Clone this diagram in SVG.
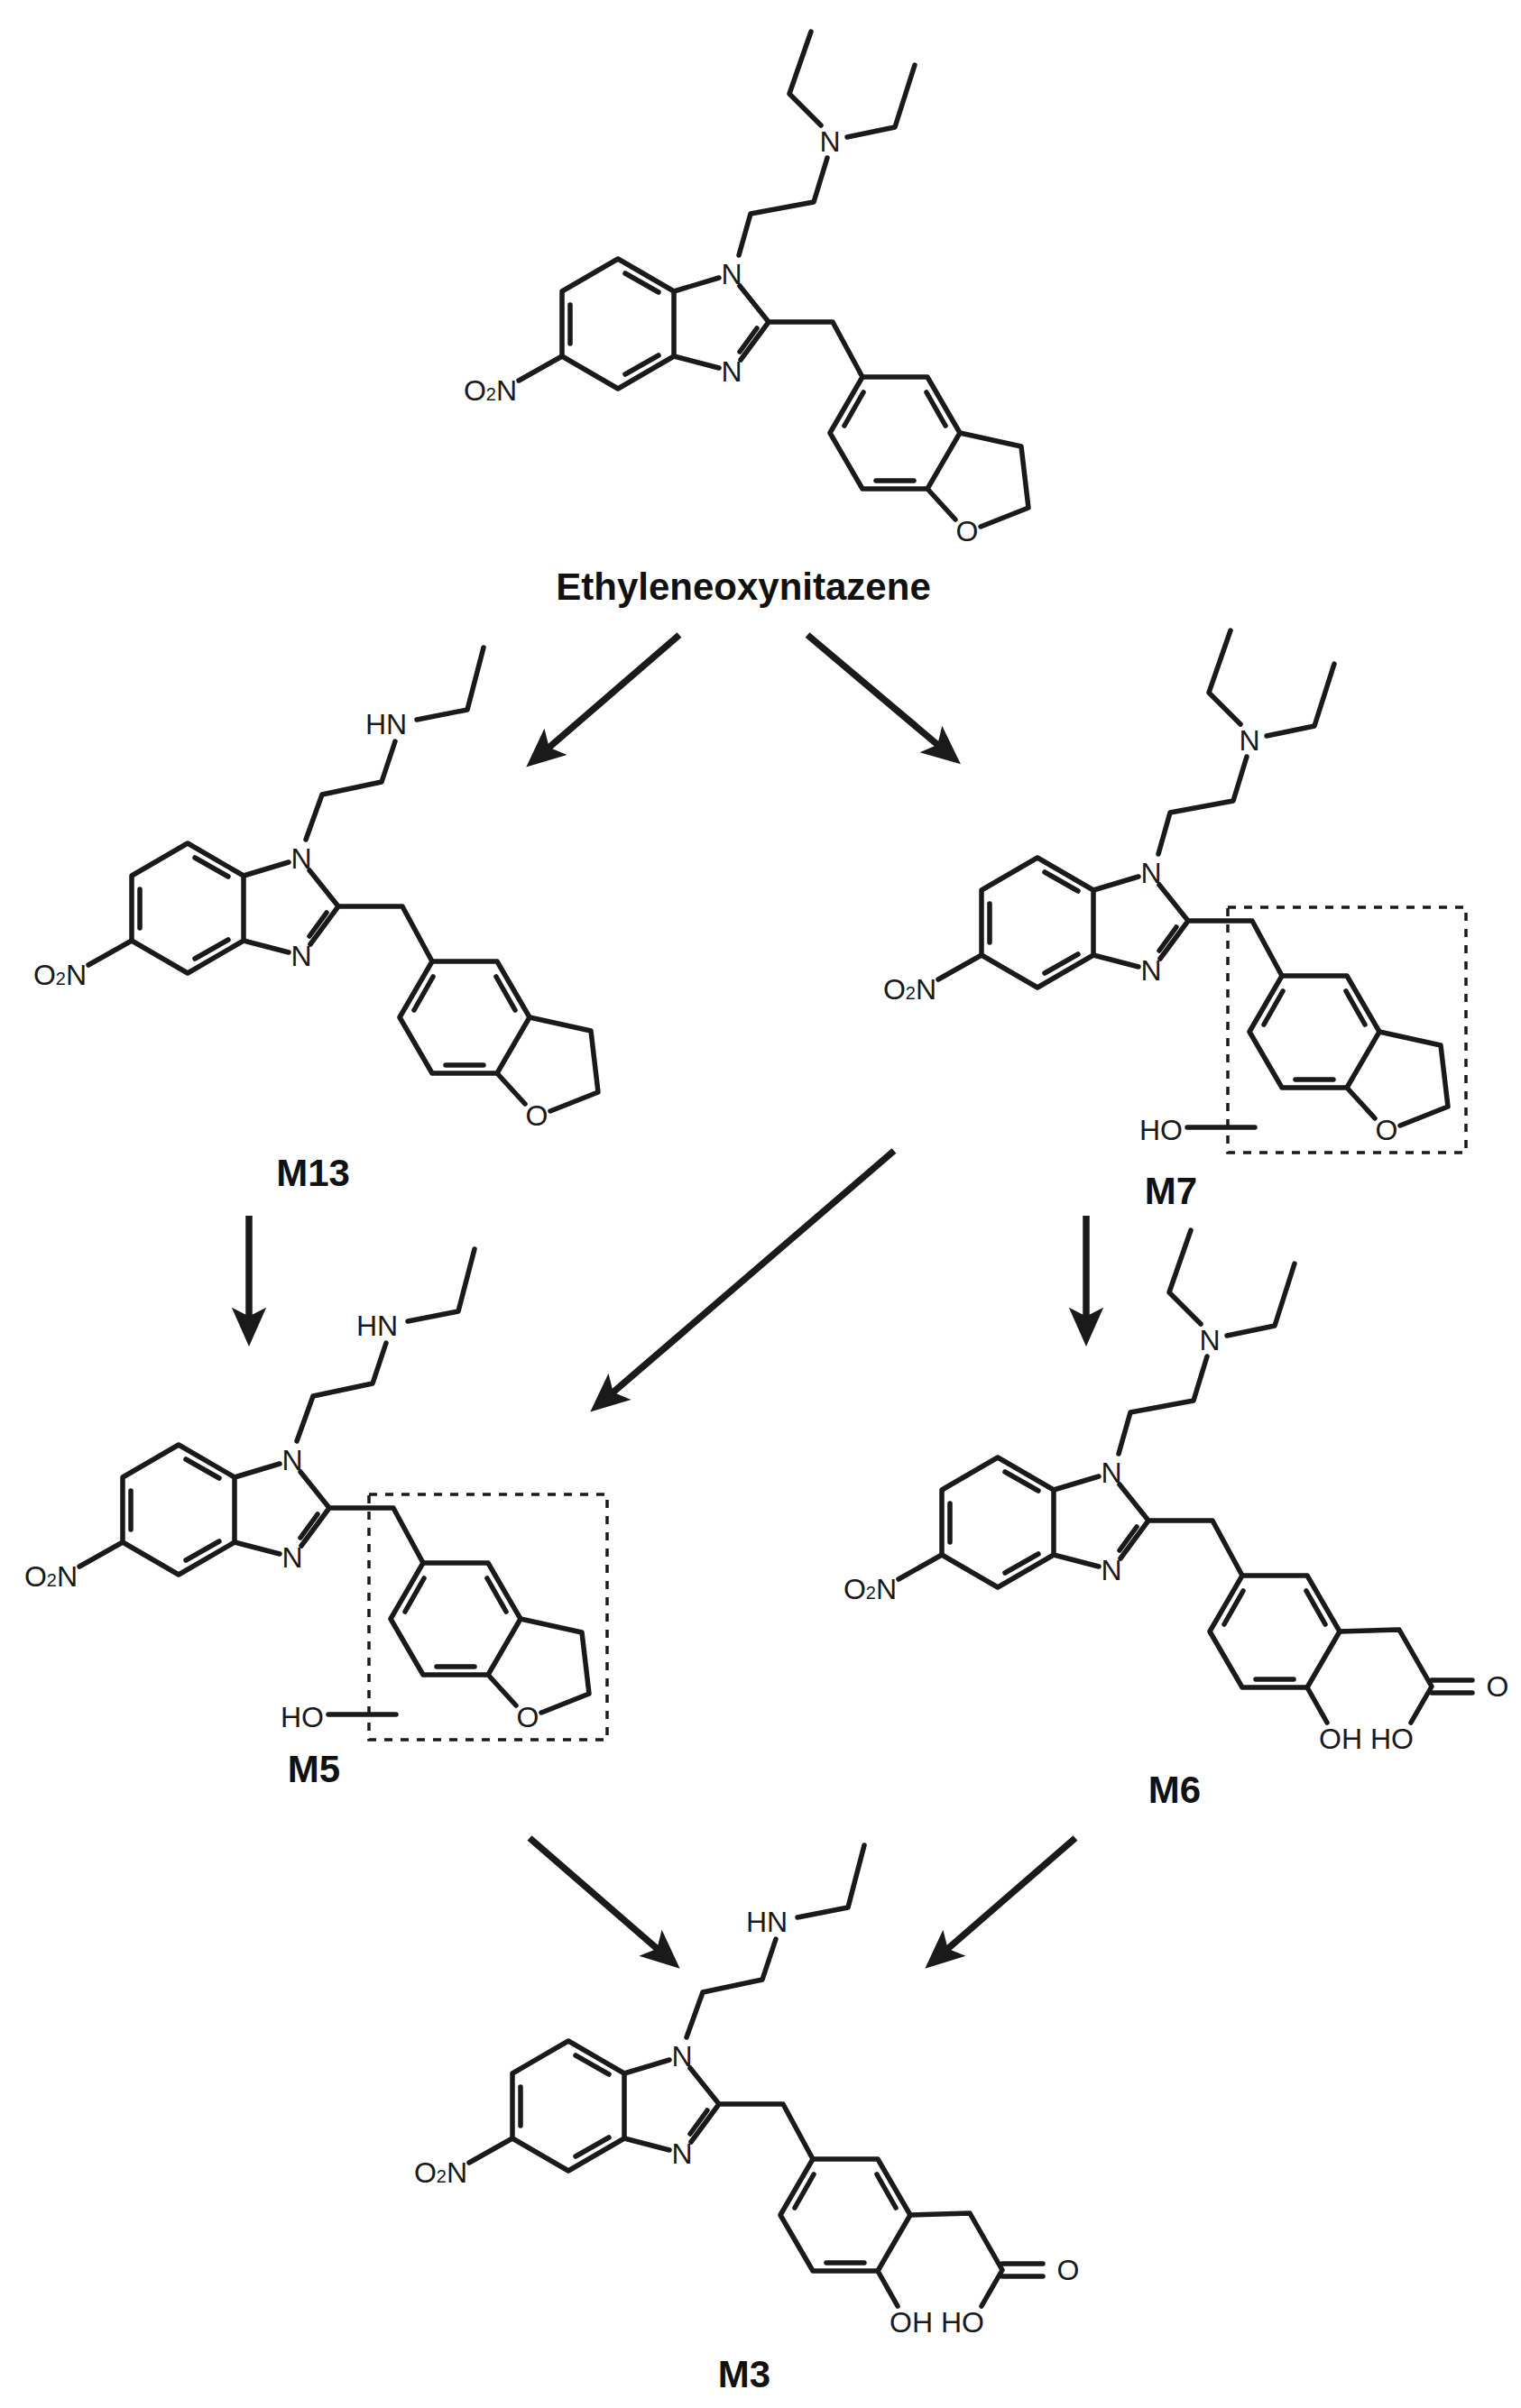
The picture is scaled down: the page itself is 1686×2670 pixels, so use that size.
<svg xmlns="http://www.w3.org/2000/svg" width="1686" height="2670" viewBox="0 0 1686 2670">
<style>
.b{fill:none;stroke:#1a1a1a;stroke-width:5.5;stroke-linecap:round;stroke-linejoin:round}
.t{font-family:"Liberation Sans",Arial,sans-serif;font-size:32px;fill:#1a1a1a;text-anchor:middle}
.s{font-size:20px}
.lbl{font-family:"Liberation Sans",Arial,sans-serif;font-size:42px;font-weight:bold;fill:#111;text-anchor:middle}
.box{fill:none;stroke:#1a1a1a;stroke-width:3.5;stroke-dasharray:9 9}
.arr{fill:none;stroke:#1a1a1a;stroke-width:7.5}
</style>
<defs>
<marker id="ah" markerUnits="userSpaceOnUse" markerWidth="60" markerHeight="60" viewBox="-20 -20 50 40" refX="0" refY="0" orient="auto">
<path d="M25,0 L-11,-16 L-3,0 L-11,16 Z" fill="#1a1a1a"/>
</marker>
<g id="core">
<path class="b" d="M-126,-17 L-188,19 L-188,91 L-126,127 L-64,91 L-64,19 Z"/>
<path class="b" d="M-118,-1 L-81,20 M-179,34 L-179,77 M-118,111 L-81,90"/>
<path class="b" d="M-64,19 L-14,4 M9,13 L41,53 L10,95 M28,60 L9,86 M-14,104 L-64,91 M41,53 L112,53 L145,114"/>
<path class="b" d="M253,176 L217,238 L145,238 L109,176 L145,114 L217,114 Z"/>
<path class="b" d="M125,168 L146,131 M216,131 L237,168 M202,229 L160,229"/>
<path class="b" d="M-188,91 L-236,118"/>
<text class="t" x="0" y="11">N</text>
<text class="t" x="0" y="119">N</text>
<text class="t" x="-238" y="140" style="text-anchor:end">O<tspan class="s" dy="0">2</tspan>N</text>
</g>
<g id="furan">
<path class="b" d="M253,176 L321,191 L329,259 L276,280 M217,238 L248,272"/>
<text class="t" x="261" y="296">O</text>
</g>
<g id="net2">
<path class="b" d="M8,-21 L21,-67 L91,-80 L106,-129 M99,-165 L64,-200 L88,-269 M128,-152 L181,-163 L203,-232"/>
<text class="t" x="109" y="-136">N</text>
</g>
<g id="nhet">
<path class="b" d="M5,-21 L23,-71 L89,-85 L104,-130 M128,-154 L184,-165 L202,-234"/>
<text class="t" x="94" y="-138">HN</text>
</g>
<g id="acid">
<path class="b" d="M253,176 L319,174 L355,237 L332,277 M355,230 L400,230 M355,244 L400,244 M217,238 L239,277"/>
<text class="t" x="428" y="248">O</text>
<text class="t" x="311" y="306">HO</text>
<text class="t" x="254" y="306">OH</text>
</g>
<g id="hobox">
<rect class="box" x="85" y="38" width="264" height="272"/>
<path class="b" d="M40,282 L115,282"/>
<text class="t" x="11" y="296">HO</text>
</g>
</defs>

<g id="ethyleneoxynitazene" transform="translate(811,304)">
<use href="#core"/><use href="#furan"/><use href="#net2"/>
</g>
<text class="lbl" x="824" y="665">Ethyleneoxynitazene</text>

<g id="M13" transform="translate(334,952)">
<use href="#core"/><use href="#furan"/><use href="#nhet"/>
</g>
<text class="lbl" x="347" y="1315">M13</text>

<g id="M7" transform="translate(1276,968)">
<use href="#core"/><use href="#furan"/><use href="#net2"/><use href="#hobox"/>
</g>
<text class="lbl" x="1298" y="1335">M7</text>

<g id="M5" transform="translate(324,1619)">
<use href="#core"/><use href="#furan"/><use href="#nhet"/><use href="#hobox"/>
</g>
<text class="lbl" x="348" y="1976">M5</text>

<g id="M6" transform="translate(1232,1633)">
<use href="#core"/><use href="#acid"/><use href="#net2"/>
</g>
<text class="lbl" x="1302" y="1999">M6</text>

<g id="M3" transform="translate(756,2280)">
<use href="#core"/><use href="#acid"/><use href="#nhet"/>
</g>
<text class="lbl" x="825" y="2647">M3</text>

<g id="connectors">
<line class="arr" x1="753" y1="704" x2="606" y2="831" marker-end="url(#ah)"/>
<line class="arr" x1="895" y1="704" x2="1042" y2="828" marker-end="url(#ah)"/>
<line class="arr" x1="276" y1="1348" x2="276" y2="1463" marker-end="url(#ah)"/>
<line class="arr" x1="991" y1="1276" x2="677" y2="1546" marker-end="url(#ah)"/>
<line class="arr" x1="1204" y1="1348" x2="1204" y2="1463" marker-end="url(#ah)"/>
<line class="arr" x1="587" y1="2038" x2="731" y2="2163" marker-end="url(#ah)"/>
<line class="arr" x1="1192" y1="2038" x2="1048" y2="2163" marker-end="url(#ah)"/>
</g>
</svg>
